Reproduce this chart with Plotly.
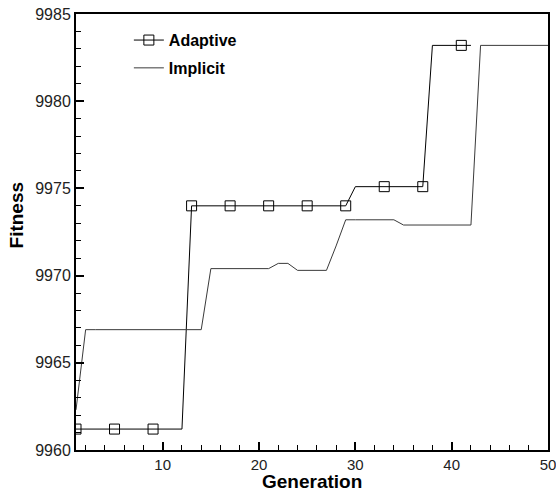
import plotly.graph_objects as go

# Data
adaptive_gen = list(range(1, 43))
adaptive_fit = ([9961.2] * 12 + [9974.0] * 17 + [9975.1] * 8 + [9983.2] * 5)

implicit_gen = list(range(1, 51))
implicit_fit = ([9962.3] + [9966.9] * 13 + [9970.4] * 7 + [9970.7] * 2 +
                [9970.3] * 4 + [9971.7] + [9973.2] * 6 + [9972.9] * 8 + [9983.2] * 8)

marker_step = 4
x_ticks = [10, 20, 30, 40, 50]
y_ticks = [9960, 9965, 9970, 9975, 9980, 9985]

fig = go.Figure()

# Adaptive line (all generations)
fig.add_trace(go.Scatter(x=adaptive_gen, y=adaptive_fit, mode="lines",
                         line=dict(color="black", width=1), showlegend=False))
# Adaptive markers every 4th generation
fig.add_trace(go.Scatter(x=adaptive_gen[::marker_step], y=adaptive_fit[::marker_step],
                         mode="markers",
                         marker=dict(symbol="square-open", size=10, color="black",
                                     line=dict(width=1, color="black")),
                         showlegend=False))
# Legend entry for Adaptive
fig.add_trace(go.Scatter(x=[None], y=[None], mode="lines+markers", name="Adaptive",
                         legendgroup="a",
                         line=dict(color="black", width=1),
                         marker=dict(symbol="square-open", size=10, color="black",
                                     line=dict(width=1, color="black"))))
# Implicit
fig.add_trace(go.Scatter(x=implicit_gen, y=implicit_fit, mode="lines", name="Implicit",
                         legendgroup="b",
                         line=dict(color="#3a3a3a", width=1)))

axis_common = dict(showgrid=False, zeroline=False, showline=True, linecolor="black",
                   linewidth=2, mirror=True, ticks="inside", ticklen=8, tickwidth=1.5,
                   tickcolor="black", ticklabeloverflow="allow", automargin=False)

fig.update_xaxes(range=[1, 50], tickvals=x_ticks, ticktext=[str(v) for v in x_ticks],
                 tickfont=dict(family="Liberation Sans, Arial", size=15, color="#222"),
                 minor=dict(dtick=2, tick0=0, ticks="inside", ticklen=5, tickwidth=1,
                            tickcolor="black"),
                 **axis_common)
fig.update_yaxes(range=[9960, 9985], tickvals=y_ticks, ticktext=[str(v) for v in y_ticks],
                 tickfont=dict(family="Liberation Sans, Arial", size=16, color="#222"),
                 minor=dict(dtick=1, tick0=9960, ticks="inside", ticklen=5, tickwidth=1,
                            tickcolor="black"),
                 **axis_common)

fig.add_annotation(text="<b>Generation</b>", xref="paper", yref="paper",
                   x=0.5, y=-0.072, xanchor="center", yanchor="middle", showarrow=False,
                   font=dict(family="Liberation Sans, Arial", size=19, color="black"))
fig.add_annotation(text="<b>Fitness</b>", xref="paper", yref="paper",
                   x=-0.124, y=0.539, xanchor="center", yanchor="middle", textangle=-90,
                   showarrow=False,
                   font=dict(family="Liberation Sans, Arial", size=19, color="black"))

fig.update_layout(
    width=556, height=493,
    margin=dict(l=76, r=8, t=14, b=43),
    paper_bgcolor="white", plot_bgcolor="white",
    legend=dict(x=0.112, y=0.979, xanchor="left", yanchor="top",
                bgcolor="rgba(0,0,0,0)", traceorder="grouped", tracegroupgap=4,
                font=dict(family="Liberation Sans, Arial", size=16, color="black",
                          weight="bold")),
)

# remove the browser's default 8px body margin so the figure fills the window
fig.write_html("out.html", config={"displayModeBar": False},
               post_script="document.body.style.margin='0';")
